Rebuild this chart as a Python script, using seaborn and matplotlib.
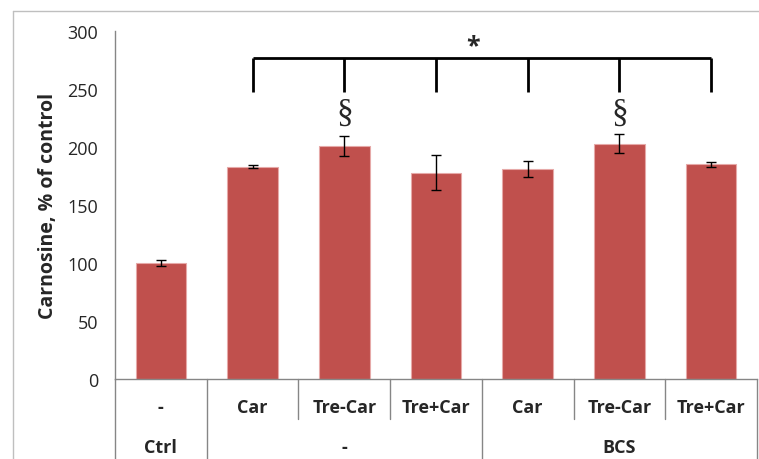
import numpy as np
import pandas as pd
import matplotlib
matplotlib.use('Agg')
import matplotlib.pyplot as plt
import seaborn as sns
from matplotlib.lines import Line2D

# ============ Data ============
groups = ['Ctrl', '-', '-', '-', 'BCS', 'BCS', 'BCS']
treatments = ['-', 'Car', 'Tre-Car', 'Tre+Car', 'Car', 'Tre-Car', 'Tre+Car']
values = [100, 183, 201, 178, 181, 203, 185]
errors = [2.5, 1.5, 8.5, 15, 7, 8.5, 2]
group_labels = ['Ctrl', '-', 'BCS']
group_spans = [(0, 0), (1, 3), (4, 6)]
sig_bars = [2, 5]

df = pd.DataFrame({'key': [f'{g}|{t}' for g, t in zip(groups, treatments)],
                   'value': values})

# ============ Style ============
sns.set_style('white')
plt.rcParams['font.family'] = ['Open Sans', 'DejaVu Sans']
gray = '#868686'

fig = plt.figure(figsize=(7.59, 4.60), dpi=100)
ax = fig.add_axes([115 / 759, 80 / 460, 642 / 759, 348 / 460])

sns.barplot(data=df, x='key', y='value', color='#C0504D', saturation=1,
            width=0.55, edgecolor='#E6A9A8', linewidth=0.8, errorbar=None, ax=ax)
ax.errorbar(np.arange(len(values)), values, yerr=errors, fmt='none',
            ecolor='black', elinewidth=1, capsize=3.5, capthick=1)

ax.set_ylim(0, 300)
ax.set_xlim(-0.5, len(values) - 0.5)
ax.set_yticks(range(0, 301, 50))
ax.tick_params(axis='y', direction='out', length=5, width=1, color=gray,
               labelsize=13, pad=7)
ax.tick_params(axis='x', length=0, labelbottom=False)
ax.set_xlabel('')
ax.set_ylabel('Carnosine, % of control', fontsize=14, fontweight='bold', labelpad=7)
sns.despine(ax=ax)
for side in ['left', 'bottom']:
    ax.spines[side].set_color(gray)
    ax.spines[side].set_linewidth(1)

# ============ Category table below axis ============
trans = ax.get_xaxis_transform()
full_lines = [-0.5, 0.5, 3.5, 6.5]
short_lines = [1.5, 2.5, 4.5, 5.5]
for xv in full_lines:
    ax.plot([xv, xv], [0, -0.24], color=gray, lw=1, transform=trans, clip_on=False)
for xv in short_lines:
    ax.plot([xv, xv], [0, -0.115], color=gray, lw=1, transform=trans, clip_on=False)
for i, t in enumerate(treatments):
    ax.text(i, -0.08, t, transform=trans, ha='center', va='center',
            fontsize=13, fontweight='bold')
for lab, (a, b) in zip(group_labels, group_spans):
    ax.text((a + b) / 2, -0.195, lab, transform=trans, ha='center', va='center',
            fontsize=13, fontweight='bold')

# ============ Significance annotations ============
ax.plot([1, 6], [277, 277], color='black', lw=2, solid_capstyle='butt')
for xv in range(1, 7):
    ax.plot([xv, xv], [277, 247], color='black', lw=2, solid_capstyle='butt')
ax.text(3.4, 287, '*', ha='center', va='center', fontsize=18, fontweight='bold')
for i in sig_bars:
    ax.text(i, 230, '§', ha='center', va='center', fontsize=24,
            family=['Liberation Serif', 'DejaVu Serif'])

# outer frame (left and top)
fig.add_artist(Line2D([13 / 759, 13 / 759], [0, 1 - 12 / 460], color='#BFBFBF', lw=1))
fig.add_artist(Line2D([13 / 759, 1], [1 - 12 / 460, 1 - 12 / 460], color='#BFBFBF', lw=1))

plt.savefig('out.png', dpi=100)
